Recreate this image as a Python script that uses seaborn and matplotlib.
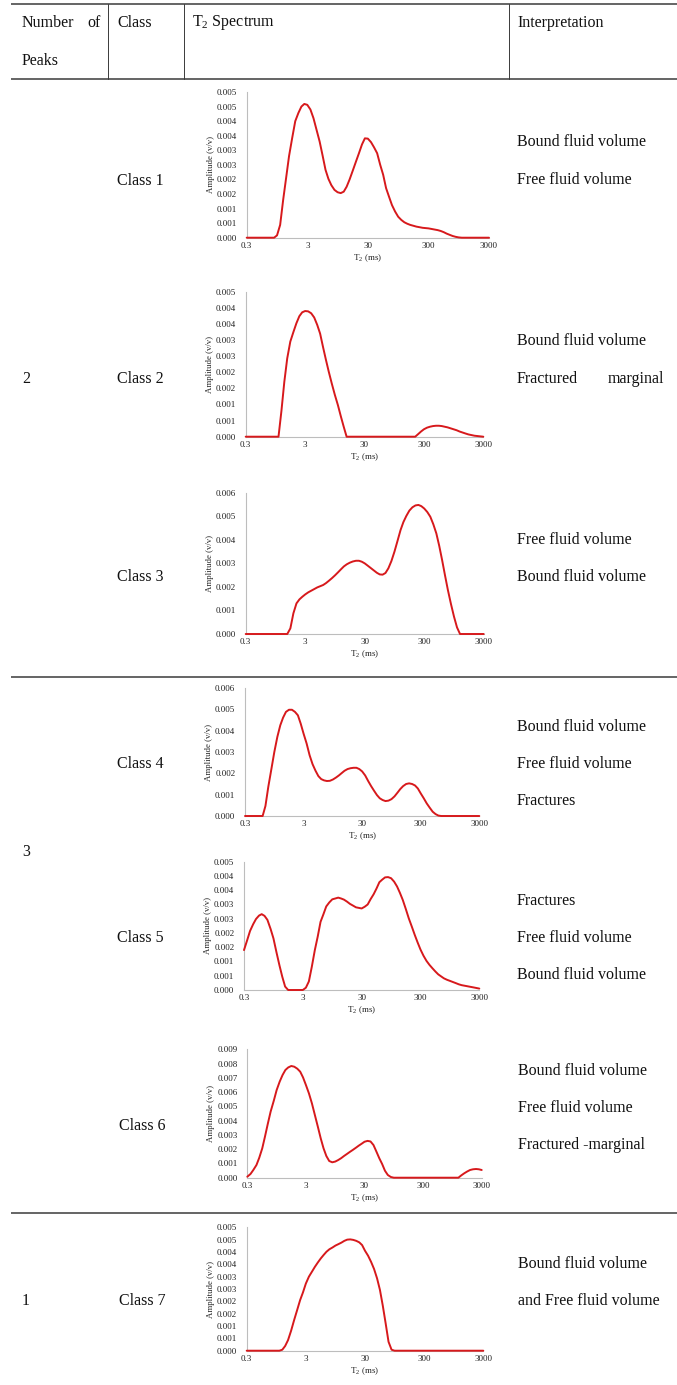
import matplotlib
matplotlib.use("Agg")
import matplotlib.pyplot as plt
from matplotlib.ticker import FixedLocator, FuncFormatter, NullLocator
import math
import seaborn as sns

# T2 grid (ms) and amplitudes (v/v)
t2_ms = [0.3, 0.34, 0.38, 0.43, 0.48, 0.54, 0.6, 0.67, 0.75, 0.85,
         0.95, 1.07, 1.2, 1.34, 1.5, 1.69, 1.9, 2.14, 2.4, 2.68,
         3, 3.38, 3.8, 4.27, 4.8, 5.37, 6, 6.7, 7.5, 8.44,
         9.5, 10.7, 12, 13.4, 15, 16.9, 19, 21.4, 24, 26.8,
         30, 33.8, 38, 42.7, 48, 53.7, 60, 67, 75, 84.4,
         95, 107, 120, 134, 150, 169, 190, 214, 240, 268,
         300, 338, 380, 427, 480, 537, 600, 670, 750, 844,
         950, 1068, 1200, 1342, 1500, 1688, 1900, 2135, 2400, 2683, 3000]

class1_amp = [0, 0, 0, 0, 0, 0, 0, 0, 0, 0,
              0.00008, 0.00044, 0.0013, 0.00204, 0.0028, 0.00342, 0.0040, 0.00428, 0.0045, 0.00459,
              0.00456, 0.0044, 0.0041, 0.0037, 0.0033, 0.00282, 0.00233, 0.00202, 0.0018, 0.00164,
              0.00156, 0.00153, 0.00158, 0.00175, 0.0020, 0.0023, 0.0026, 0.0029, 0.0032, 0.00341,
              0.0034, 0.00328, 0.0031, 0.0029, 0.0025, 0.00216, 0.0017, 0.00141, 0.00112, 0.0009,
              0.00072, 0.00061, 0.00053, 0.00048, 0.00044, 0.00041, 0.00038, 0.00036, 0.00034, 0.00033,
              0.00032, 0.0003, 0.00028, 0.00026, 0.00023, 0.00019, 0.00014, 0.0001, 0.00006, 0.00003,
              0.00001, 0, 0, 0, 0, 0, 0, 0, 0, 0, 0]
class2_amp = [0, 0, 0, 0, 0, 0, 0, 0, 0, 0,
              0, 0, 0.00081, 0.0017, 0.00243, 0.00295, 0.00324, 0.00352, 0.00374, 0.00386,
              0.0039, 0.00389, 0.00383, 0.0037, 0.00347, 0.0032, 0.00279, 0.0024, 0.00202, 0.00165,
              0.0013, 0.00098, 0.00063, 0.00031, 0, 0, 0, 0, 0, 0,
              0, 0, 0, 0, 0, 0, 0, 0, 0, 0,
              0, 0, 0, 0, 0, 0, 0, 0, 0.00008, 0.00016,
              0.00023, 0.00028, 0.00031, 0.00033, 0.00034, 0.00034, 0.00033, 0.00031, 0.00029, 0.00026,
              0.00023, 0.0002, 0.00016, 0.00013, 0.0001, 0.00007, 0.00005, 0.00003, 0.00002, 0.00001, 0]
class3_amp = [0, 0, 0, 0, 0, 0, 0, 0, 0, 0,
              0, 0, 0, 0, 0, 0.00024, 0.00088, 0.0013, 0.00147, 0.00158,
              0.00168, 0.00177, 0.00184, 0.00191, 0.00198, 0.00203, 0.00208, 0.00216, 0.00226, 0.00237,
              0.00249, 0.00262, 0.00275, 0.00287, 0.00296, 0.00303, 0.00308, 0.00311, 0.00311, 0.00307,
              0.003, 0.0029, 0.0028, 0.0027, 0.0026, 0.00253, 0.00252, 0.00259, 0.00279, 0.0031,
              0.0035, 0.00396, 0.00441, 0.00475, 0.00501, 0.00524, 0.00538, 0.00546, 0.00548, 0.00543,
              0.00533, 0.00518, 0.00498, 0.00466, 0.00427, 0.00374, 0.00314, 0.0025, 0.00187, 0.00128,
              0.00074, 0.00028, 0, 0, 0, 0, 0, 0, 0, 0, 0]
class4_amp = [0, 0, 0, 0, 0, 0, 0, 0.00047, 0.00137, 0.00223,
              0.003, 0.00371, 0.00425, 0.00461, 0.00488, 0.00498, 0.00498, 0.00488, 0.00472, 0.00433,
              0.00386, 0.0034, 0.00285, 0.00243, 0.00212, 0.00187, 0.00173, 0.00167, 0.00164, 0.00165,
              0.00171, 0.0018, 0.0019, 0.00201, 0.00212, 0.0022, 0.00224, 0.00226, 0.00226, 0.0022,
              0.00209, 0.0019, 0.00164, 0.0014, 0.00118, 0.00098, 0.00083, 0.00075, 0.0007, 0.00072,
              0.00079, 0.00092, 0.00109, 0.00126, 0.0014, 0.0015, 0.00153, 0.0015, 0.00143, 0.00129,
              0.00106, 0.00083, 0.00059, 0.00039, 0.0002, 0.00009, 0.00002, 0, 0, 0,
              0, 0, 0, 0, 0, 0, 0, 0, 0, 0, 0]
class5_amp = [0.0014, 0.00175, 0.00207, 0.00231, 0.00249, 0.00261, 0.00266, 0.0026, 0.00246, 0.00214,
              0.00181, 0.00132, 0.00087, 0.00047, 0.00012, 0, 0, 0, 0, 0,
              0, 0.00008, 0.0003, 0.00082, 0.0014, 0.00187, 0.00239, 0.00265, 0.00293, 0.00307,
              0.00318, 0.00321, 0.00324, 0.00321, 0.00317, 0.0031, 0.00302, 0.00296, 0.0029, 0.00288,
              0.00286, 0.00292, 0.003, 0.00319, 0.00336, 0.00356, 0.00378, 0.00387, 0.00395, 0.00396,
              0.00392, 0.0038, 0.00363, 0.00341, 0.00316, 0.00284, 0.00251, 0.00222, 0.00193, 0.00167,
              0.00142, 0.0012, 0.00102, 0.00088, 0.00076, 0.00065, 0.00055, 0.00048, 0.00041, 0.00036,
              0.00032, 0.00028, 0.00024, 0.0002, 0.00017, 0.00015, 0.00013, 0.00011, 0.00009, 0.00007, 0.00005]
class6_amp = [0.00007, 0.00026, 0.00054, 0.00089, 0.0014, 0.00206, 0.00287, 0.00376, 0.00463, 0.0054,
              0.00614, 0.00673, 0.0072, 0.00755, 0.00773, 0.00783, 0.00778, 0.00764, 0.00743, 0.00703,
              0.0065, 0.00591, 0.00521, 0.00439, 0.00357, 0.00276, 0.00206, 0.00152, 0.00117, 0.00108,
              0.00113, 0.00124, 0.00137, 0.00152, 0.00166, 0.00181, 0.00195, 0.0021, 0.00225, 0.00238,
              0.00252, 0.00258, 0.00254, 0.00229, 0.00182, 0.00136, 0.00096, 0.00049, 0.00019, 0.00005,
              0, 0, 0, 0, 0, 0, 0, 0, 0, 0,
              0, 0, 0, 0, 0, 0, 0, 0, 0, 0,
              0, 0, 0, 0.00016, 0.0003, 0.00043, 0.00054, 0.00059, 0.00061, 0.00059, 0.00054]
class7_amp = [0, 0, 0, 0, 0, 0, 0, 0, 0, 0,
              0, 0, 0.00004, 0.00019, 0.00043, 0.00081, 0.00124, 0.00165, 0.00205, 0.00236,
              0.00272, 0.003, 0.0032, 0.0034, 0.00358, 0.00374, 0.00388, 0.00401, 0.00411, 0.00418,
              0.00426, 0.00432, 0.00438, 0.00445, 0.0045, 0.00451, 0.00449, 0.00445, 0.00439, 0.00428,
              0.00405, 0.00385, 0.0036, 0.00331, 0.00293, 0.00246, 0.00182, 0.00111, 0.00036, 0.00004,
              0, 0, 0, 0, 0, 0, 0, 0, 0, 0,
              0, 0, 0, 0, 0, 0, 0, 0, 0, 0,
              0, 0, 0, 0, 0, 0, 0, 0, 0, 0, 0]

class_names = ["Class 1", "Class 2", "Class 3", "Class 4", "Class 5", "Class 6", "Class 7"]
amps = [class1_amp, class2_amp, class3_amp, class4_amp, class5_amp, class6_amp, class7_amp]
y_max = [0.005, 0.0045, 0.006, 0.006, 0.0045, 0.009, 0.005]
y_step = [0.0005, 0.0005, 0.001, 0.001, 0.0005, 0.001, 0.0005]
x_ticks = [0.3, 3, 30, 300, 3000]
x_tick_labels = ["0.3", "3", "30", "300", "3000"]

peak_counts = ["2", "3", "1"]
interpretations = [
    ["Bound fluid volume", "Free fluid volume"],
    ["Bound fluid volume", "Fractured marginal"],
    ["Free fluid volume", "Bound fluid volume"],
    ["Bound fluid volume", "Free fluid volume", "Fractures"],
    ["Fractures", "Free fluid volume", "Bound fluid volume"],
    ["Bound fluid volume", "Free fluid volume", "Fractured -marginal"],
    ["Bound fluid volume", "and Free fluid volume"],
]

# layout in pixels (x0, x1, y_top, y_bottom) of each chart's plot area
boxes = [(246.7, 489, 92, 237.7), (245.7, 483.3, 291.7, 436.7), (245.7, 483.7, 492.7, 634),
         (245, 479.3, 688, 816), (244, 479.3, 861.7, 990), (247.3, 481.7, 1049.3, 1177.7),
         (246.7, 483.3, 1227.3, 1350.7)]
class_y = [181, 379, 577, 764, 938, 1126, 1301]
class_x = [117, 117, 117, 117, 117, 119, 119]
interp_y = [[142, 180], [341, 379], [540, 577], [727, 764, 801], [901, 938, 975],
            [1071, 1108, 1145], [1264, 1301]]
interp_x = [517, 517, 517, 517, 517, 518, 518]
peak_y = [379, 852, 1301]

sns.set_style("white")
plt.rcParams["font.family"] = ["Liberation Serif", "DejaVu Serif"]
plt.rcParams["mathtext.fontset"] = "custom"
plt.rcParams["mathtext.rm"] = "Liberation Serif"
plt.rcParams["mathtext.it"] = "Liberation Serif:italic"

W, H = 677, 1385
fig = plt.figure(figsize=(W / 100, H / 100), dpi=100)

bg = fig.add_axes([0, 0, 1, 1])
bg.set_xlim(0, W)
bg.set_ylim(H, 0)
bg.axis("off")

line_c = "#3a3a3a"
txt_c = "#111111"
fs = 11.5
for y in [4, 79, 677, 1213]:
    bg.plot([11, W], [y, y], color=line_c, lw=1.1, solid_capstyle="butt")
for x in [108, 184, 509]:
    bg.plot([x, x], [4, 79], color=line_c, lw=0.7)

# header
bg.text(22, 23, "Number", fontsize=fs, color=txt_c, va="center", ha="left")
bg.text(101, 23, "of", fontsize=fs, color=txt_c, va="center", ha="right")
bg.text(22, 61, "Peaks", fontsize=fs, color=txt_c, va="center", ha="left")
bg.text(117, 23, "Class", fontsize=fs, color=txt_c, va="center", ha="left")
bg.text(192, 23, r"T$_{2}$ Spectrum", fontsize=fs, color=txt_c, va="center", ha="left")
bg.text(517, 23, "Interpretation", fontsize=fs, color=txt_c, va="center", ha="left")

for label, y in zip(peak_counts, peak_y):
    bg.text(22, y, label, fontsize=fs, color=txt_c, va="center", ha="left")

for i, name in enumerate(class_names):
    bg.text(class_x[i], class_y[i], name, fontsize=fs, color=txt_c, va="center", ha="left")
    for text, y in zip(interpretations[i], interp_y[i]):
        if text == "Fractured marginal":
            # justified line in the source table
            bg.text(interp_x[i], y, "Fractured", fontsize=fs, color=txt_c, va="center", ha="left")
            bg.text(664, y, "marginal", fontsize=fs, color=txt_c, va="center", ha="right")
        else:
            bg.text(interp_x[i], y, text, fontsize=fs, color=txt_c, va="center", ha="left")


def tick_fmt(v, pos):
    # Excel style: three decimals, half rounded up
    return f"{math.floor(v * 1000 + 0.5 + 1e-9) / 1000:.3f}"


for i in range(len(class_names)):
    x0, x1, yt, yb = boxes[i]
    ax = fig.add_axes([x0 / W, 1 - yb / H, (x1 - x0) / W, (yb - yt) / H])
    ax.patch.set_alpha(0)
    sns.lineplot(x=t2_ms, y=amps[i], ax=ax, color="#d7191c", linewidth=1.4,
                 clip_on=False, zorder=3)
    ax.set_xscale("log")
    ax.set_xlim(0.3, 3000)
    ax.set_ylim(0, y_max[i])
    ax.xaxis.set_major_locator(FixedLocator(x_ticks))
    ax.set_xticklabels(x_tick_labels)
    ax.xaxis.set_minor_locator(NullLocator())
    n = int(round(y_max[i] / y_step[i]))
    ax.yaxis.set_major_locator(FixedLocator([k * y_step[i] for k in range(n + 1)]))
    ax.yaxis.set_major_formatter(FuncFormatter(tick_fmt))
    for s in ["top", "right"]:
        ax.spines[s].set_visible(False)
    for s in ["left", "bottom"]:
        ax.spines[s].set_color("#bdbdbd")
        ax.spines[s].set_linewidth(0.8)
    ax.tick_params(axis="x", length=0, labelsize=6.5, pad=3, labelcolor="#222222")
    ax.tick_params(axis="y", length=0, labelsize=6.5, pad=7, labelcolor="#222222")
    ax.set_xlabel(r"T$_{2}$ (ms)", fontsize=6.5, labelpad=1.5, color="#222222")
    ax.set_ylabel("Amplitude (v/v)", fontsize=6.3, labelpad=1.5, color="#222222")

fig.savefig("out.png", dpi=100)
